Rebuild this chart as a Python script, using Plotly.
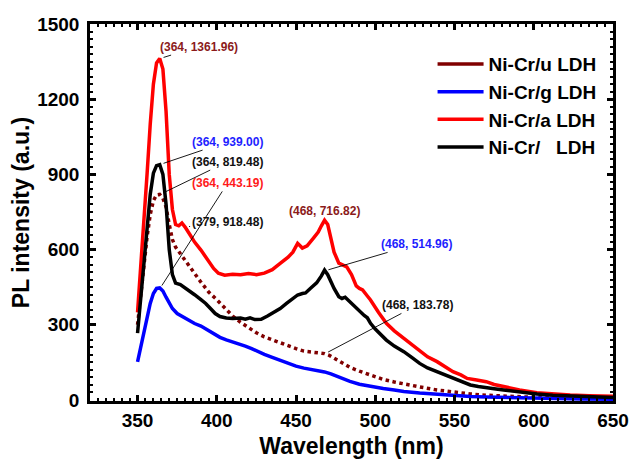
import plotly.graph_objects as go

# ---------------- data ----------------
u_x = [350, 352, 354, 356, 358, 360, 362, 364, 366, 368, 370, 372, 374, 377, 380, 383, 386, 390, 395, 400,
       405, 410, 415, 420, 425, 430, 435, 440, 445, 450, 455, 460, 465, 468, 471, 475, 480, 484, 490, 497,
       505, 512, 518, 528, 539, 550, 560, 570, 581, 592, 602, 615, 630, 650]
u_y = [300, 420, 540, 650, 740, 795, 818, 820, 805, 770, 700, 640, 610, 585, 560, 535, 505, 470, 430, 400,
       365, 335, 310, 287, 268, 252, 240, 228, 215, 205, 195, 190, 187, 185, 178, 163, 145, 130, 115, 100,
       82, 72, 64, 52, 40, 31, 24, 19, 15, 12, 10, 8, 7, 6]

g_x = [350, 352, 354, 356, 358, 360, 362, 364, 366, 368, 370, 372, 375, 378, 382, 386, 390, 394, 398, 402,
       406, 410, 414, 418, 422, 426, 430, 435, 440, 445, 450, 455, 460, 465, 468, 472, 476, 480, 484, 490,
       497, 505, 512, 518, 528, 539, 550, 560, 570, 581, 592, 602, 615, 630, 650]
g_y = [152, 210, 270, 330, 385, 425, 445, 447, 435, 410, 385, 365, 345, 333, 319, 305, 295, 280, 265, 250,
       240, 232, 225, 215, 205, 193, 182, 170, 158, 146, 135, 127, 122, 117, 112, 104, 93, 83, 74, 63,
       54, 46, 40, 34, 28, 22, 18, 14, 12, 10, 8, 7, 6, 4, 3]

a_x = [350, 352, 354, 356, 358, 360, 362, 364, 366, 368, 370, 372, 374, 376, 378, 380, 383, 386, 390, 394,
       398, 401, 405, 410, 415, 420, 425, 430, 435, 440, 445, 448, 451, 454, 457, 461, 464, 466, 468, 470,
       472, 474, 477, 480, 482, 485, 488, 490, 492, 495, 497, 502, 507, 512, 518, 523, 528, 533, 539, 544,
       549, 554, 558, 564, 570, 575, 581, 586, 591, 602, 612, 623, 635, 650]
a_y = [350, 520, 700, 900, 1100, 1260, 1345, 1362, 1320, 1150, 900, 760, 700, 695, 706, 690, 660, 630, 598, 560,
       525, 506, 498, 502, 500, 505, 500, 506, 520, 545, 570, 590, 625, 606, 615, 646, 670, 695, 717, 700,
       650, 590, 546, 535, 531, 500, 455, 445, 439, 415, 399, 350, 306, 276, 246, 220, 193, 172, 153, 133,
       113, 100, 86, 80, 73, 62, 53, 46, 40, 29, 24, 20, 17, 15]

b_x = [350, 352, 354, 356, 358, 360, 362, 364, 366, 368, 370, 372, 374, 377, 380, 382, 386, 390, 393, 396,
       399, 402, 406, 410, 415, 418, 421, 424, 428, 432, 436, 440, 444, 448, 451, 454, 456, 459, 463, 466,
       468, 470, 472, 474, 477, 479, 481, 484, 487, 490, 493, 495, 497, 500, 503, 507, 512, 518, 523, 528,
       533, 539, 544, 549, 555, 560, 565, 570, 575, 581, 590, 602, 612, 623, 635, 650]
b_y = [267, 400, 540, 690, 820, 905, 935, 939, 900, 780, 600, 500, 466, 460, 448, 439, 420, 400, 385, 365,
       345, 333, 327, 325, 327, 322, 328, 321, 322, 335, 350, 365, 385, 405, 419, 425, 427, 445, 467, 495,
       518, 500, 470, 445, 412, 405, 410, 392, 372, 352, 337, 328, 306, 283, 262, 239, 215, 193, 170, 146,
       128, 113, 99, 86, 72, 60, 54, 51, 45, 40, 32, 24, 19, 16, 13, 10]

series_names = ["Ni-Cr/u LDH", "Ni-Cr/g LDH", "Ni-Cr/a LDH", "Ni-Cr/\u00a0\u00a0\u00a0LDH"]
series_colors = ["#800000", "#0000FF", "#FF0000", "#000000"]

x_ticks = [350, 400, 450, 500, 550, 600, 650]
y_ticks = [0, 300, 600, 900, 1200, 1500]

# annotation labels: (text, color, x, y, ax, ay)
labels = [
    ("(364, 1361.96)", "#8B1A1A", 364, 1361.96, 39, -12),
    ("(364, 939.00)", "#1E1EFF", 364, 939.00, 68, -23),
    ("(364, 819.48)", "#111111", 364, 819.48, 68, -33),
    ("(364, 443.19)", "#FF1A1A", 364, 443.19, 68, -106),
    ("(379, 918.48)", "#111111", 380, 690, 42, -5),
    ("(468, 514.96)", "#1E1EFF", 468, 514.96, 92, -27),
    ("(468, 183.78)", "#111111", 468, 183.78, 93, -49),
]
peak_label = ("(468, 716.82)", "#8B1A1A", 468, 716.82)

FONT = "Liberation Sans, Arial, Helvetica, sans-serif"

fig = go.Figure()

xs = [u_x, g_x, a_x, b_x]
ys = [u_y, g_y, a_y, b_y]
dashes = ["dot", "solid", "solid", "solid"]
for x, y, c, d in zip(xs, ys, series_colors, dashes):
    fig.add_trace(go.Scatter(x=x, y=y, mode="lines", showlegend=False,
                             line=dict(color=c, width=3.5, dash=d)))

# legend entries (solid line samples)
for n, c in zip(series_names, series_colors):
    fig.add_trace(go.Scatter(x=[None], y=[None], mode="lines", name=n,
                             line=dict(color=c, width=3.5)))

for t, c, x, y, ax, ay in labels:
    fig.add_annotation(x=x, y=y, ax=ax, ay=ay, text=t, showarrow=True,
                       arrowhead=0, arrowwidth=0.9, arrowcolor="black", standoff=4,
                       font=dict(family=FONT, size=12, color=c, weight="bold"))
t, c, x, y = peak_label
fig.add_annotation(x=x, y=y, text=t, showarrow=False, yanchor="bottom", yshift=0,
                   font=dict(family=FONT, size=12, color=c, weight="bold"))

axis_common = dict(showline=True, linewidth=2.5, linecolor="black", mirror="ticks",
                   ticks="inside", ticklen=6, tickwidth=2.5, tickcolor="black",
                   showgrid=False, zeroline=False, automargin=False,
                   tickfont=dict(family=FONT, size=19, color="black", weight="bold"),
                   minor=dict(ticks="inside", ticklen=3, tickwidth=1.5, tickcolor="black"))

fig.update_xaxes(range=[320, 650], tickvals=x_ticks, ticklabelstandoff=0,
                 title=dict(text="Wavelength (nm)", standoff=10,
                            font=dict(family=FONT, size=23, color="black", weight="bold")),
                 **axis_common)
fig.update_xaxes(minor_dtick=5, minor_tick0=0)
fig.update_yaxes(range=[-4, 1500], tickvals=y_ticks, ticklabelstandoff=4,
                 title=dict(text="PL intensity (a.u.)", standoff=2,
                            font=dict(family=FONT, size=23, color="black", weight="bold")),
                 **axis_common)
fig.update_yaxes(minor_dtick=30, minor_tick0=0)

fig.update_layout(
    width=630, height=459,
    margin=dict(l=90, r=17, t=24, b=58),
    paper_bgcolor="white", plot_bgcolor="white",
    showlegend=True,
    legend=dict(x=0.655, y=0.944, xanchor="left", yanchor="top",
                bgcolor="rgba(0,0,0,0)", itemwidth=46,
                font=dict(family=FONT, size=19, color="black", weight="bold")),
)

fig.write_html("out.html")
